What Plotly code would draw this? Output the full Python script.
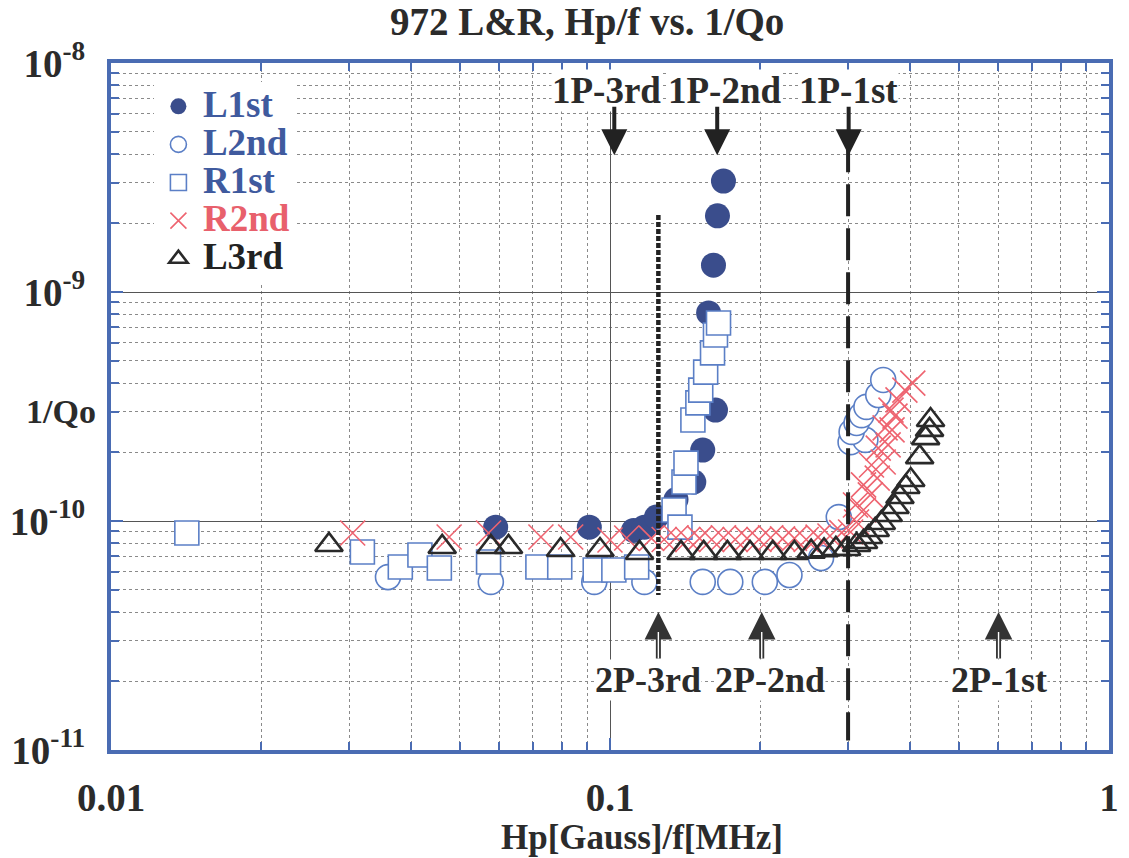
import math
import plotly.graph_objects as go

# ---------------- data ----------------
l1st_x = [0.0590, 0.0909, 0.1115, 0.1172, 0.1239, 0.1356, 0.1472, 0.1534, 0.1627, 0.1576, 0.1612, 0.1642, 0.1688]
l1st_y = [9.4e-11, 9.4e-11, 9.1e-11, 9.4e-11, 1.04e-10, 1.24e-10, 1.48e-10, 2.04e-10, 3.05e-10, 8.1e-10, 1.31e-9, 2.15e-9, 3.05e-9]

l2nd_x = [0.0359, 0.0577, 0.0930, 0.1172, 0.1534, 0.1742, 0.2043, 0.2289, 0.2648, 0.2874,
          0.3035, 0.3249, 0.3049, 0.3120, 0.3192, 0.3265, 0.3448, 0.3528]
l2nd_y = [5.69e-11, 5.42e-11, 5.42e-11, 5.42e-11, 5.42e-11, 5.42e-11, 5.42e-11, 5.81e-11, 6.89e-11, 1.04e-10,
          2.21e-10, 2.26e-10, 2.45e-10, 2.68e-10, 2.90e-10, 3.15e-10, 3.55e-10, 4.13e-10]

r1st_x = [0.01419, 0.0319, 0.0380, 0.0416, 0.0455, 0.0571, 0.0717, 0.0793, 0.0934, 0.1018, 0.1131,
          0.1344, 0.1381, 0.1407, 0.1420, 0.1466, 0.1500, 0.1520, 0.1555, 0.1605, 0.1627, 0.1650]
r1st_y = [8.86e-11, 7.32e-11, 6.30e-11, 7.10e-11, 6.23e-11, 6.62e-11, 6.30e-11, 6.30e-11, 6.11e-11, 6.11e-11, 6.30e-11,
          1.117e-10, 9.4e-11, 1.48e-10, 1.79e-10, 2.76e-10, 3.28e-10, 3.73e-10, 4.47e-10, 5.42e-10, 6.49e-10, 7.32e-10]

r2nd_x = [0.0305, 0.0476, 0.0571, 0.0727, 0.0834, 0.1000, 0.1080,
          0.1211, 0.1284, 0.1356, 0.1432, 0.1512, 0.1598, 0.1688, 0.1782, 0.1882, 0.1988, 0.2099,
          0.2217, 0.2342, 0.2473, 0.2612, 0.2759, 0.2913,
          0.3035, 0.3104, 0.3120, 0.3221, 0.3221, 0.3324, 0.3342, 0.3432, 0.3448, 0.3528, 0.3559,
          0.3609, 0.3657, 0.3675, 0.3725, 0.3777, 0.3899, 0.4044]
r2nd_y = [8.86e-11, 8.51e-11, 8.86e-11, 8.51e-11, 8.51e-11, 8.26e-11, 8.43e-11,
          8.40e-11, 8.30e-11, 8.45e-11, 8.30e-11, 8.40e-11, 8.30e-11, 8.45e-11, 8.30e-11, 8.40e-11, 8.30e-11, 8.45e-11,
          8.35e-11, 8.40e-11, 8.30e-11, 8.50e-11, 8.60e-11, 8.90e-11,
          8.95e-11, 1.175e-10, 9.9e-11, 1.117e-10, 1.437e-10, 1.30e-10, 1.756e-10, 1.54e-10, 2.08e-10, 1.81e-10, 2.55e-10,
          2.15e-10, 3.05e-10, 2.50e-10, 2.87e-10, 3.38e-10, 3.73e-10, 4.0e-10]

l3rd_x = [0.02734, 0.0461, 0.0577, 0.0626, 0.0796, 0.0955, 0.1146,
          0.1388, 0.1541, 0.1719, 0.1908, 0.2119, 0.2342, 0.2530, 0.2685, 0.2836, 0.2980,
          0.3120, 0.3221, 0.3295, 0.3400, 0.3497, 0.3609, 0.3725, 0.3811, 0.3916, 0.4006,
          0.4174, 0.4290, 0.4369, 0.4389]
l3rd_y = [7.86e-11, 7.70e-11, 7.70e-11, 7.70e-11, 7.47e-11, 7.47e-11, 7.25e-11,
          7.25e-11, 7.25e-11, 7.25e-11, 7.25e-11, 7.25e-11, 7.25e-11, 7.35e-11, 7.45e-11, 7.55e-11, 7.55e-11,
          7.86e-11, 8.10e-11, 8.51e-11, 9.14e-11, 9.8e-11, 1.062e-10, 1.151e-10, 1.273e-10, 1.408e-10, 1.51e-10,
          1.90e-10, 2.30e-10, 2.50e-10, 2.76e-10]

# reference lines
dotted_line_x = 0.125
dotted_line_y = [2.17e-9, 4.75e-11]
dashed_line_x = 0.3
dashed_line_y = [4.6e-9, 1.1e-11]

# marker annotations (label, arrow x, label x)
top_labels = ["1P-3rd", "1P-2nd", "1P-1st"]
top_arrow_x = [0.102, 0.164, 0.3008]
top_label_x = [0.0985, 0.1702, 0.3008]
top_arrow_tip_y = 3.96e-9
top_label_y = 7.6e-9

bottom_labels = ["2P-3rd", "2P-2nd", "2P-1st"]
bottom_arrow_x = [0.125, 0.2014, 0.6007]
bottom_label_x = [0.1190, 0.2090, 0.602]
bottom_arrow_tip_y = 4.01e-11
bottom_label_y = 2.02e-11

# axis ticks
x_tickvals = [0.01, 0.1, 1]
x_ticktext = ["0.01", "0.1", "1"]
y_tickvals = [1e-11, 1e-10, 1e-9, 1e-8]
y_ticktext = ["10<sup>-11</sup>", "10<sup>-10</sup>", "10<sup>-9</sup>", "10<sup>-8</sup>"]
minor_digits = [2, 3, 4, 5, 6, 7, 8, 9]
x_minor = [d * 10.0 ** e for e in (-2, -1) for d in minor_digits]
y_minor = [d * 10.0 ** e for e in (-11, -10, -9) for d in minor_digits]

# ---------------- figure ----------------
BLUE_DARK = "#3a4d8c"
BLUE = "#5b7fc6"
RED = "#ee6470"
BLACK = "#2a2a2a"
FRAME = "#4a6cb3"
FONT = "Liberation Serif"
TXT = "#2b2b2b"

fig = go.Figure()

def name_html(txt, col):
    return f'<span style="color:{col};font-size:37px">{txt}</span>'

fig.add_trace(go.Scatter(x=l1st_x, y=l1st_y, mode="markers", name=name_html("L1st", "#3f5a9e"),
                         marker=dict(symbol="circle", size=25, color=BLUE_DARK, line=dict(width=0))))
fig.add_trace(go.Scatter(x=l2nd_x, y=l2nd_y, mode="markers", name=name_html("L2nd", "#3f5a9e"),
                         marker=dict(symbol="circle", size=25, color="white", line=dict(width=1.6, color=BLUE))))
fig.add_trace(go.Scatter(x=r1st_x, y=r1st_y, mode="markers", name=name_html("R1st", "#3f5a9e"),
                         marker=dict(symbol="square", size=24, color="white", line=dict(width=1.6, color=BLUE))))
fig.add_trace(go.Scatter(x=r2nd_x, y=r2nd_y, mode="markers", name=name_html("R2nd", "#e8606c"),
                         marker=dict(symbol="x-thin-open", size=25, color=RED, line=dict(width=1.6, color=RED))))
fig.add_trace(go.Scatter(x=l3rd_x, y=l3rd_y, mode="markers", name=name_html("L3rd", "#222222"),
                         marker=dict(symbol="triangle-up-open", size=24, color=BLACK, line=dict(width=2.6, color=BLACK))))

fig.add_trace(go.Scatter(x=[dotted_line_x, dotted_line_x], y=dotted_line_y, mode="lines", showlegend=False,
                         hoverinfo="skip", line=dict(color="#222", width=4.5, dash="5px,2px")))
fig.add_trace(go.Scatter(x=[dashed_line_x, dashed_line_x], y=dashed_line_y, mode="lines", showlegend=False,
                         hoverinfo="skip", line=dict(color="#222", width=4, dash="32px,12px")))

def axis_common(minor_vals):
    return dict(
        type="log", showline=True, linecolor=FRAME, linewidth=4, mirror="allticks",
        ticks="inside", ticklen=12, tickwidth=2, tickcolor=FRAME,
        showgrid=True, gridcolor="#555", gridwidth=1, zeroline=False,
        tickmode="array",
        minor=dict(tickmode="array", tickvals=minor_vals, ticks="inside", ticklen=8, tickwidth=1.5,
                   tickcolor=FRAME, showgrid=True, gridcolor="#8a8a8a", griddash="dot", gridwidth=1),
    )

fig.update_xaxes(range=[-2, 0], tickvals=x_tickvals, ticktext=x_ticktext,
                 tickfont=dict(family=FONT, size=39, color=TXT, weight="bold"),
                 ticklabelstandoff=10, **axis_common(x_minor))
fig.update_yaxes(range=[-11, -8], tickvals=y_tickvals, ticktext=y_ticktext,
                 tickfont=dict(family=FONT, size=39, color=TXT, weight="bold"),
                 ticklabelstandoff=14, **axis_common(y_minor))

fig.update_layout(
    width=1129, height=858,
    margin=dict(l=107, r=10, t=63, b=108),
    paper_bgcolor="white", plot_bgcolor="white",
    font=dict(family=FONT, size=26, color=TXT),
    showlegend=True,
    legend=dict(x=0.043, y=0.972, xanchor="left", yanchor="top", bgcolor="white",
                borderwidth=0, font=dict(family=FONT, size=27, weight="bold"),
                itemsizing="trace", itemwidth=39, tracegroupgap=0),
)

ann = []
# title
ann.append(dict(xref="paper", yref="paper", x=0.4773, y=1.06, text="972 L&amp;R, Hp/f vs. 1/Qo",
                showarrow=False, font=dict(family=FONT, size=39, weight="bold", color=TXT),
                xanchor="center", yanchor="middle"))
# x axis title
ann.append(dict(xref="paper", yref="paper", x=0.5316, y=-0.128, text="Hp[Gauss]/f[MHz]",
                showarrow=False, font=dict(family=FONT, size=35, weight="bold", color=TXT),
                xanchor="center", yanchor="middle"))
# y axis title
ann.append(dict(xref="paper", yref="paper", x=-0.05, y=0.492, text="1/Qo",
                showarrow=False, font=dict(family=FONT, size=34, weight="bold", color=TXT),
                xanchor="center", yanchor="middle"))

for lab, axv, lxv in zip(top_labels, top_arrow_x, top_label_x):
    ann.append(dict(x=math.log10(lxv), y=math.log10(top_label_y), text=lab, showarrow=False,
                    bgcolor="white", borderpad=0,
                    font=dict(family=FONT, size=37, weight="bold", color=TXT)))
    ann.append(dict(x=math.log10(axv), y=math.log10(top_arrow_tip_y), text="", showarrow=True,
                    ax=0, ay=-50, arrowhead=2, arrowsize=1.3, arrowwidth=4, arrowcolor="#222"))

for lab, axv, lxv in zip(bottom_labels, bottom_arrow_x, bottom_label_x):
    ann.append(dict(x=math.log10(lxv), y=math.log10(bottom_label_y), text=lab, showarrow=False,
                    bgcolor="white", borderpad=0,
                    font=dict(family=FONT, size=36, weight="bold", color=TXT)))
    ann.append(dict(x=math.log10(axv), y=math.log10(bottom_arrow_tip_y), text="", showarrow=True,
                    ax=0, ay=48, arrowhead=2, arrowsize=1.1, arrowwidth=5, arrowcolor="#333"))
    # hollow shaft
    ann.append(dict(x=math.log10(axv), y=math.log10(bottom_arrow_tip_y) - 20 / 229, text="", showarrow=True,
                    ax=0, ay=28, arrowhead=0, arrowwidth=1.4, arrowcolor="white"))

fig.update_layout(annotations=ann)

fig.write_html("out.html")
